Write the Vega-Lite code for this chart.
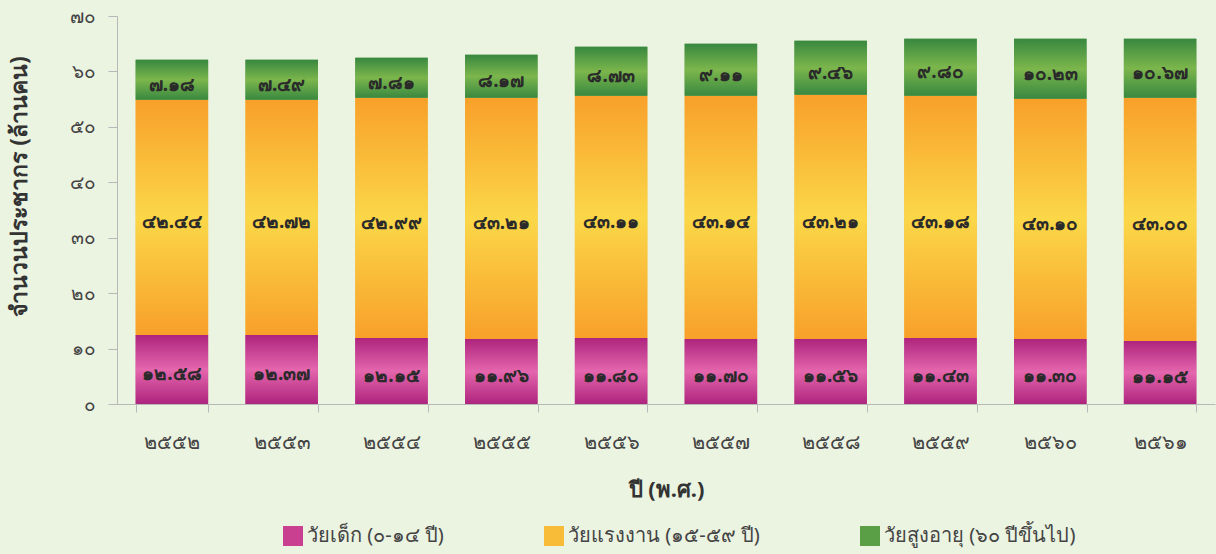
{
  "$schema": "https://vega.github.io/schema/vega-lite/v6.json",
  "width": 1098,
  "height": 388,
  "autosize": {"type": "none"},
  "padding": {"left": 117, "top": 16, "right": 1, "bottom": 150},
  "background": "#ebf3e1",
  "config": {
    "view": {"stroke": null},
    "font": "Noto Sans",
    "axis": {"labelFont": "Noto Sans", "titleFont": "Noto Sans"},
    "legend": {"labelFont": "Noto Sans"}
  },
  "data": {
    "values": [
      {"year": "๒๕๕๒", "group": "วัยเด็ก (๐-๑๔ ปี)", "o": 1, "value": 12.45, "label": "๑๒.๕๘"},
      {"year": "๒๕๕๒", "group": "วัยแรงงาน (๑๕-๕๙ ปี)", "o": 2, "value": 42.42, "label": "๔๒.๔๔"},
      {"year": "๒๕๕๒", "group": "วัยสูงอายุ (๖๐ ปีขึ้นไป)", "o": 3, "value": 7.22, "label": "๗.๑๘"},
      {"year": "๒๕๕๓", "group": "วัยเด็ก (๐-๑๔ ปี)", "o": 1, "value": 12.45, "label": "๑๒.๓๗"},
      {"year": "๒๕๕๓", "group": "วัยแรงงาน (๑๕-๕๙ ปี)", "o": 2, "value": 42.42, "label": "๔๒.๗๒"},
      {"year": "๒๕๕๓", "group": "วัยสูงอายุ (๖๐ ปีขึ้นไป)", "o": 3, "value": 7.22, "label": "๗.๔๙"},
      {"year": "๒๕๕๔", "group": "วัยเด็ก (๐-๑๔ ปี)", "o": 1, "value": 11.91, "label": "๑๒.๑๕"},
      {"year": "๒๕๕๔", "group": "วัยแรงงาน (๑๕-๕๙ ปี)", "o": 2, "value": 43.32, "label": "๔๒.๙๙"},
      {"year": "๒๕๕๔", "group": "วัยสูงอายุ (๖๐ ปีขึ้นไป)", "o": 3, "value": 7.22, "label": "๗.๘๑"},
      {"year": "๒๕๕๕", "group": "วัยเด็ก (๐-๑๔ ปี)", "o": 1, "value": 11.73, "label": "๑๑.๙๖"},
      {"year": "๒๕๕๕", "group": "วัยแรงงาน (๑๕-๕๙ ปี)", "o": 2, "value": 43.5, "label": "๔๓.๒๑"},
      {"year": "๒๕๕๕", "group": "วัยสูงอายุ (๖๐ ปีขึ้นไป)", "o": 3, "value": 7.76, "label": "๘.๑๗"},
      {"year": "๒๕๕๖", "group": "วัยเด็ก (๐-๑๔ ปี)", "o": 1, "value": 11.91, "label": "๑๑.๘๐"},
      {"year": "๒๕๕๖", "group": "วัยแรงงาน (๑๕-๕๙ ปี)", "o": 2, "value": 43.68, "label": "๔๓.๑๑"},
      {"year": "๒๕๕๖", "group": "วัยสูงอายุ (๖๐ ปีขึ้นไป)", "o": 3, "value": 8.84, "label": "๘.๗๓"},
      {"year": "๒๕๕๗", "group": "วัยเด็ก (๐-๑๔ ปี)", "o": 1, "value": 11.73, "label": "๑๑.๗๐"},
      {"year": "๒๕๕๗", "group": "วัยแรงงาน (๑๕-๕๙ ปี)", "o": 2, "value": 43.86, "label": "๔๓.๑๔"},
      {"year": "๒๕๕๗", "group": "วัยสูงอายุ (๖๐ ปีขึ้นไป)", "o": 3, "value": 9.39, "label": "๙.๑๑"},
      {"year": "๒๕๕๘", "group": "วัยเด็ก (๐-๑๔ ปี)", "o": 1, "value": 11.73, "label": "๑๑.๕๖"},
      {"year": "๒๕๕๘", "group": "วัยแรงงาน (๑๕-๕๙ ปี)", "o": 2, "value": 44.04, "label": "๔๓.๒๑"},
      {"year": "๒๕๕๘", "group": "วัยสูงอายุ (๖๐ ปีขึ้นไป)", "o": 3, "value": 9.75, "label": "๙.๔๖"},
      {"year": "๒๕๕๙", "group": "วัยเด็ก (๐-๑๔ ปี)", "o": 1, "value": 11.91, "label": "๑๑.๔๓"},
      {"year": "๒๕๕๙", "group": "วัยแรงงาน (๑๕-๕๙ ปี)", "o": 2, "value": 43.68, "label": "๔๓.๑๘"},
      {"year": "๒๕๕๙", "group": "วัยสูงอายุ (๖๐ ปีขึ้นไป)", "o": 3, "value": 10.29, "label": "๙.๘๐"},
      {"year": "๒๕๖๐", "group": "วัยเด็ก (๐-๑๔ ปี)", "o": 1, "value": 11.73, "label": "๑๑.๓๐"},
      {"year": "๒๕๖๐", "group": "วัยแรงงาน (๑๕-๕๙ ปี)", "o": 2, "value": 43.32, "label": "๔๓.๑๐"},
      {"year": "๒๕๖๐", "group": "วัยสูงอายุ (๖๐ ปีขึ้นไป)", "o": 3, "value": 10.83, "label": "๑๐.๒๓"},
      {"year": "๒๕๖๑", "group": "วัยเด็ก (๐-๑๔ ปี)", "o": 1, "value": 11.37, "label": "๑๑.๑๕"},
      {"year": "๒๕๖๑", "group": "วัยแรงงาน (๑๕-๕๙ ปี)", "o": 2, "value": 43.86, "label": "๔๓.๐๐"},
      {"year": "๒๕๖๑", "group": "วัยสูงอายุ (๖๐ ปีขึ้นไป)", "o": 3, "value": 10.65, "label": "๑๐.๖๗"}
    ]
  },
  "transform": [
    {"stack": "value", "groupby": ["year"], "sort": [{"field": "o", "order": "ascending"}], "as": ["y0", "y1"]},
    {"calculate": "(datum.y0 + datum.y1) / 2", "as": "ymid"}
  ],
  "encoding": {
    "x": {
      "field": "year", "type": "nominal", "sort": null,
      "scale": {"paddingInner": 0.34, "paddingOuter": 0.17},
      "axis": {
        "title": "ปี (พ.ศ.)", "labelAngle": 0, "domainColor": "#b8b8b8", "tickColor": "#b8b8b8",
        "tickBand": "extent", "tickSize": 8, "labelFontSize": 20, "labelColor": "#444444",
        "labelPadding": 20, "titleFontSize": 22, "titleFontWeight": "bold", "titleColor": "#333333",
        "titlePadding": 27
      }
    },
    "y": {
      "field": "y0", "type": "quantitative",
      "scale": {"domain": [0, 70]},
      "axis": {
        "title": "จำนวนประชากร (ล้านคน)", "values": [0, 10, 20, 30, 40, 50, 60, 70],
        "labelExpr": "['๐','๑๐','๒๐','๓๐','๔๐','๕๐','๖๐','๗๐'][round(datum.value / 10)]",
        "grid": false, "domainColor": "#b8b8b8", "tickColor": "#b8b8b8", "tickSize": 9,
        "labelFontSize": 19, "labelColor": "#444444", "labelPadding": 13,
        "titleFontSize": 23, "titleFontWeight": "bold", "titleColor": "#333333", "titlePadding": 38,
        "titleY": 170
      }
    }
  },
  "layer": [
    {
      "mark": {"type": "bar"},
      "encoding": {
        "y2": {"field": "y1"},
        "color": {
          "field": "group", "type": "nominal",
          "scale": {
            "domain": ["วัยเด็ก (๐-๑๔ ปี)", "วัยแรงงาน (๑๕-๕๙ ปี)", "วัยสูงอายุ (๖๐ ปีขึ้นไป)"],
            "range": ["#c8408f", "#f9bc38", "#5a9f46"]
          },
          "legend": {
            "title": null, "orient": "none", "direction": "horizontal", "legendX": 166, "legendY": 510,
            "symbolType": "square", "symbolSize": 400, "symbolStrokeWidth": 0, "symbolOpacity": 1,
            "labelFontSize": 20, "labelColor": "#444444", "columnPadding": 100, "labelOffset": 4,
            "labelLimit": 400
          }
        }
      }
    },
    {
      "mark": {"type": "bar", "opacity": 1},
      "encoding": {
        "y2": {"field": "y1"},
        "fill": {
          "condition": [
            {"test": "datum.o === 1", "value": {"gradient": "linear", "x1": 0, "y1": 0, "x2": 0, "y2": 1, "stops": [{"offset": 0, "color": "#ad247d"}, {"offset": 0.5, "color": "#e466ad"}, {"offset": 1, "color": "#ad247d"}]}},
            {"test": "datum.o === 2", "value": {"gradient": "linear", "x1": 0, "y1": 0, "x2": 0, "y2": 1, "stops": [{"offset": 0, "color": "#f8a02a"}, {"offset": 0.5, "color": "#fbd748"}, {"offset": 1, "color": "#f8a02a"}]}}
          ],
          "value": {"gradient": "linear", "x1": 0, "y1": 0, "x2": 0, "y2": 1, "stops": [{"offset": 0, "color": "#388840"}, {"offset": 0.5, "color": "#7cb64c"}, {"offset": 1, "color": "#388840"}]}
        }
      }
    },
    {
      "mark": {"type": "text", "fontSize": 19, "fontWeight": "bold", "color": "#2a2a2a", "dy": 5},
      "encoding": {
        "y": {"field": "ymid", "type": "quantitative"},
        "text": {"field": "label", "type": "nominal"}
      }
    }
  ]
}
